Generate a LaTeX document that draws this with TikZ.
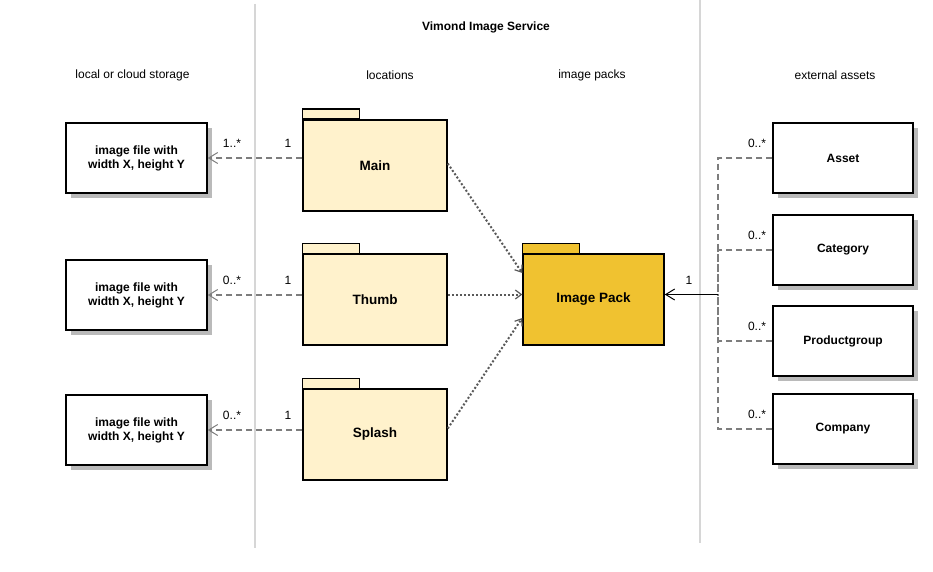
\documentclass[tikz,border=0pt]{standalone}
\usepackage{fontspec}
\setmainfont{Liberation Sans}
\usepackage{xcolor}
\usetikzlibrary{positioning,arrows.meta,shadows}

\definecolor{pkglight}{RGB}{255,242,204}
\definecolor{pkggold}{RGB}{240,194,48}
\definecolor{sepgray}{RGB}{214,214,214}
\definecolor{linkgray}{RGB}{125,125,125}

\begin{document}
\begin{tikzpicture}[
  x=1pt, y=-1pt,
  box/.style={rectangle, draw, line width=1.5pt, fill=white, minimum width=141pt, minimum height=70pt, align=center, font=\fontsize{12}{14}\selectfont\bfseries, drop shadow={shadow xshift=5pt, shadow yshift=-5pt, fill=black!27, opacity=1}},
  pkg/.style={rectangle, draw, line width=1.5pt, fill=pkglight, minimum width=144pt, minimum height=91pt, font=\fontsize{13.5}{16}\selectfont\bfseries},
  pkgtab/.style={draw, line width=1.5pt, fill=pkglight},
  sep/.style={draw=sepgray, line width=2pt},
  header/.style={font=\fontsize{12}{14}\selectfont},
  mult/.style={font=\fontsize{12}{14}\selectfont},
  dep/.style={dash pattern=on 6pt off 4pt, draw=linkgray, line width=1.5pt, -{Straight Barb[length=9pt, width=11pt, line width=1pt]}},
  branch/.style={dash pattern=on 6pt off 4pt, draw=linkgray, line width=1.5pt},
  trunk/.style={draw=black, line width=1.5pt, -{Straight Barb[length=9pt, width=11pt, line width=1pt]}},
  use/.style={dotted, draw=black!65, line width=2pt, -{Straight Barb[length=6pt, width=9pt, line width=1.2pt]}}
]
\useasboundingbox (0,0) rectangle (933,572);

% Column separators
\draw[sep] (255,4) -- (255,548);
\draw[sep] (700,0) -- (700,543);

% Headers
\node[header, font=\fontsize{12}{14}\selectfont\bfseries] (title) at (486,27) {Vimond Image Service};
\node[header] (hstore) at (132.5,75) {local or cloud storage};
\node[header] (hloc) at (390,75) {locations};
\node[header] (hpack) at (592,75) {image packs};
\node[header] (hext) at (835,75) {external assets};

% Storage side
\node[box] (file1) at (136.5,158) {image file with\\width X, height Y};
\node[box] (file2) at (136.5,295) {image file with\\width X, height Y};
\node[box] (file3) at (136.5,430) {image file with\\width X, height Y};

% Locations
\node[pkg] (main) at (375,165.5) {Main};
\node[pkg] (thumb) at (375,299.5) {Thumb};
\node[pkg] (splash) at (375,434.5) {Splash};
\draw[pkgtab] (main.north west) rectangle ++(57,-10);
\draw[pkgtab] (thumb.north west) rectangle ++(57,-10);
\draw[pkgtab] (splash.north west) rectangle ++(57,-10);

% Image pack
\node[pkg, fill=pkggold, minimum width=141pt] (pack) at (593.5,299.5) {Image Pack};
\draw[pkgtab, fill=pkggold] (pack.north west) rectangle ++(57,-10);

% External assets
\node[box, minimum width=140pt] (asset) at (843,158) {Asset};
\node[box, minimum width=140pt] (category) at (843,250) {Category};
\node[box, minimum width=140pt] (product) at (843,341) {Productgroup};
\node[box, minimum width=140pt] (company) at (843,429) {Company};

% Arrows
\draw[dep] (main.west |- file1.east) -- (file1.east);
\draw[dep] (thumb.west |- file2.east) -- (file2.east);
\draw[dep] (splash.west |- file3.east) -- (file3.east);

\draw[use] ([yshift=2pt]main.east) -- ([yshift=26.5pt]pack.west);
\draw[use] ([yshift=5pt]thumb.east) -- ([yshift=5pt]pack.west);
\draw[use] ([yshift=6pt]splash.east) -- ([yshift=-18.5pt]pack.west);

\coordinate (hub) at (718,294.5);
\draw[branch] (asset.west) -| (hub);
\draw[branch] (category.west) -| (hub);
\draw[branch] (product.west) -| (hub);
\draw[branch] (company.west) -| (hub);
\draw[trunk] (hub) -- ([yshift=5pt]pack.east);

% Multiplicities
\node[mult] (m1a) at (232,143) {1..*};
\node[mult] (m1b) at (288,143) {1};
\node[mult] (m2a) at (232,280) {0..*};
\node[mult] (m2b) at (288,280) {1};
\node[mult] (m3a) at (232,415) {0..*};
\node[mult] (m3b) at (288,415) {1};
\node[mult] (mp) at (689,280) {1};
\node[mult] (ma) at (757,143) {0..*};
\node[mult] (mc) at (757,235) {0..*};
\node[mult] (mg) at (757,326) {0..*};
\node[mult] (mo) at (757,414) {0..*};

\end{tikzpicture}
\end{document}
